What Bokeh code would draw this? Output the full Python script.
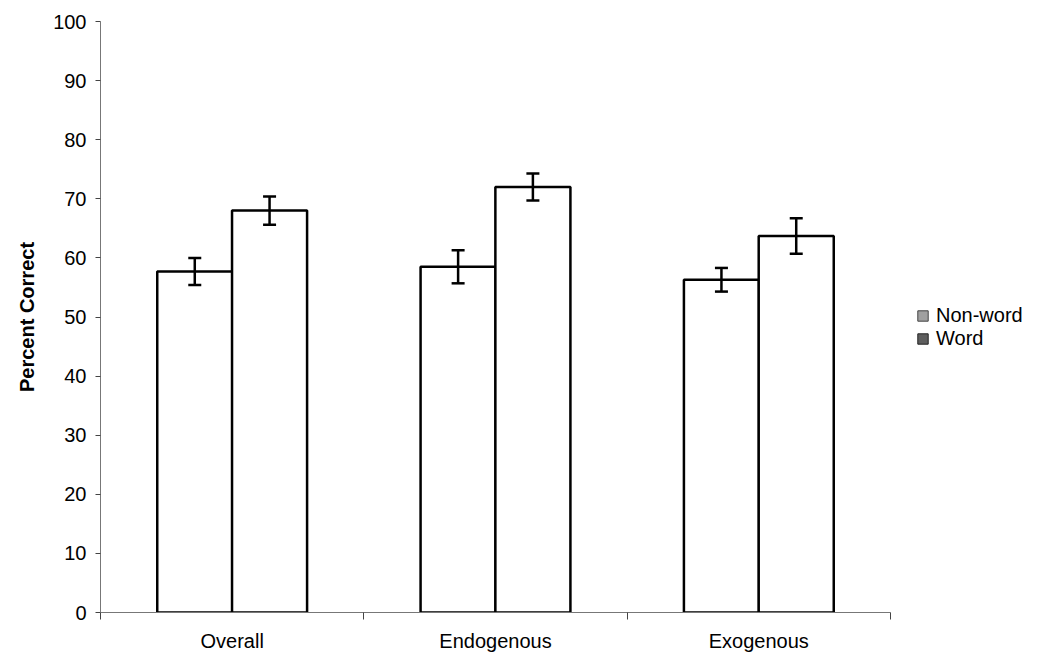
from bokeh.plotting import figure
from bokeh.models import (ColumnDataSource, FixedTicker, Whisker, TeeHead,
                          Legend, LegendItem, Range1d)
from bokeh.embed import file_html
from bokeh.resources import INLINE

categories = ["Overall", "Endogenous", "Exogenous"]
series = ["Non-word", "Word"]
nonword = [57.7, 58.5, 56.3]
word = [68.0, 72.0, 63.7]
nonword_err = [2.3, 2.8, 2.0]
word_err = [2.4, 2.3, 3.0]
y_ticks = list(range(0, 101, 10))

offset = 0.142
bw = 0.285
centers = [i + 0.5 for i in range(len(categories))]

FONT = "Liberation Sans"

p = figure(output_backend="svg", toolbar_location=None,
           x_range=Range1d(0, 3), y_range=Range1d(0, 100),
           min_border_left=100, min_border_right=0, min_border_top=21,
           min_border_bottom=43)
p.frame_width = 790
p.frame_height = 591
p.xgrid.visible = False
p.ygrid.visible = False
p.outline_line_color = None
p.background_fill_color = "white"

src_nw = ColumnDataSource(dict(x=[c - offset for c in centers], top=nonword,
                               lo=[v - e for v, e in zip(nonword, nonword_err)],
                               hi=[v + e for v, e in zip(nonword, nonword_err)]))
src_w = ColumnDataSource(dict(x=[c + offset for c in centers], top=word,
                              lo=[v - e for v, e in zip(word, word_err)],
                              hi=[v + e for v, e in zip(word, word_err)]))

p.vbar(x="x", top="top", bottom=0, width=bw, source=src_nw,
       fill_color="white", line_color="black", line_width=2.5)
p.vbar(x="x", top="top", bottom=0, width=bw, source=src_w,
       fill_color="white", line_color="black", line_width=2.5)

for src in (src_nw, src_w):
    w = Whisker(source=src, base="x", upper="hi", lower="lo", level="overlay",
                line_color="black", line_width=2.5,
                upper_head=TeeHead(size=13, line_width=2.5, line_color="black"),
                lower_head=TeeHead(size=13, line_width=2.5, line_color="black"))
    p.add_layout(w)

# legend proxies (outside visible range)
r1 = p.quad(left=[-6], right=[-5], bottom=[-6], top=[-5],
            fill_color="#a0a0a0", line_color="#444444", line_width=1)
r2 = p.quad(left=[-6], right=[-5], bottom=[-6], top=[-5],
            fill_color="#5e5e5e", line_color="#222222", line_width=1)
legend = Legend(items=[LegendItem(label=series[0], renderers=[r1]),
                       LegendItem(label=series[1], renderers=[r2])],
                location=(26, 262), border_line_color=None,
                background_fill_alpha=0, glyph_width=13, glyph_height=13,
                label_text_font=FONT, label_text_font_size="20px",
                label_text_color="black", label_height=18,
                label_text_line_height=0.9,
                label_standoff=7, spacing=-5, padding=0, margin=0)
p.add_layout(legend, "right")

# axes
p.yaxis.ticker = FixedTicker(ticks=y_ticks)
p.yaxis.axis_label = "Percent Correct"
p.yaxis.axis_label_text_font = FONT
p.yaxis.axis_label_text_font_style = "bold"
p.yaxis.axis_label_text_font_size = "20px"
p.yaxis.axis_label_text_color = "black"
p.yaxis.axis_label_standoff = 12
p.yaxis.major_label_text_font = FONT
p.yaxis.major_label_text_font_size = "20px"
p.yaxis.major_label_text_color = "black"
p.yaxis.major_tick_out = 5
p.yaxis.major_tick_in = 0
p.yaxis.minor_tick_line_color = None
p.yaxis.axis_line_color = "#777777"
p.yaxis.major_tick_line_color = "#444444"
p.yaxis.major_label_standoff = 9

p.xaxis.ticker = FixedTicker(ticks=centers, minor_ticks=list(range(len(categories) + 1)))
p.xaxis.major_label_overrides = {c: cat for c, cat in zip(centers, categories)}
p.xaxis.major_label_text_font = FONT
p.xaxis.major_label_text_font_size = "20px"
p.xaxis.major_label_text_color = "black"
p.xaxis.major_tick_line_color = None
p.xaxis.minor_tick_out = 7
p.xaxis.minor_tick_in = 0
p.xaxis.minor_tick_line_color = "#444444"
p.xaxis.axis_line_color = "#777777"
p.xaxis.major_label_standoff = 10

open("out.html", "w").write(file_html(p, INLINE))
